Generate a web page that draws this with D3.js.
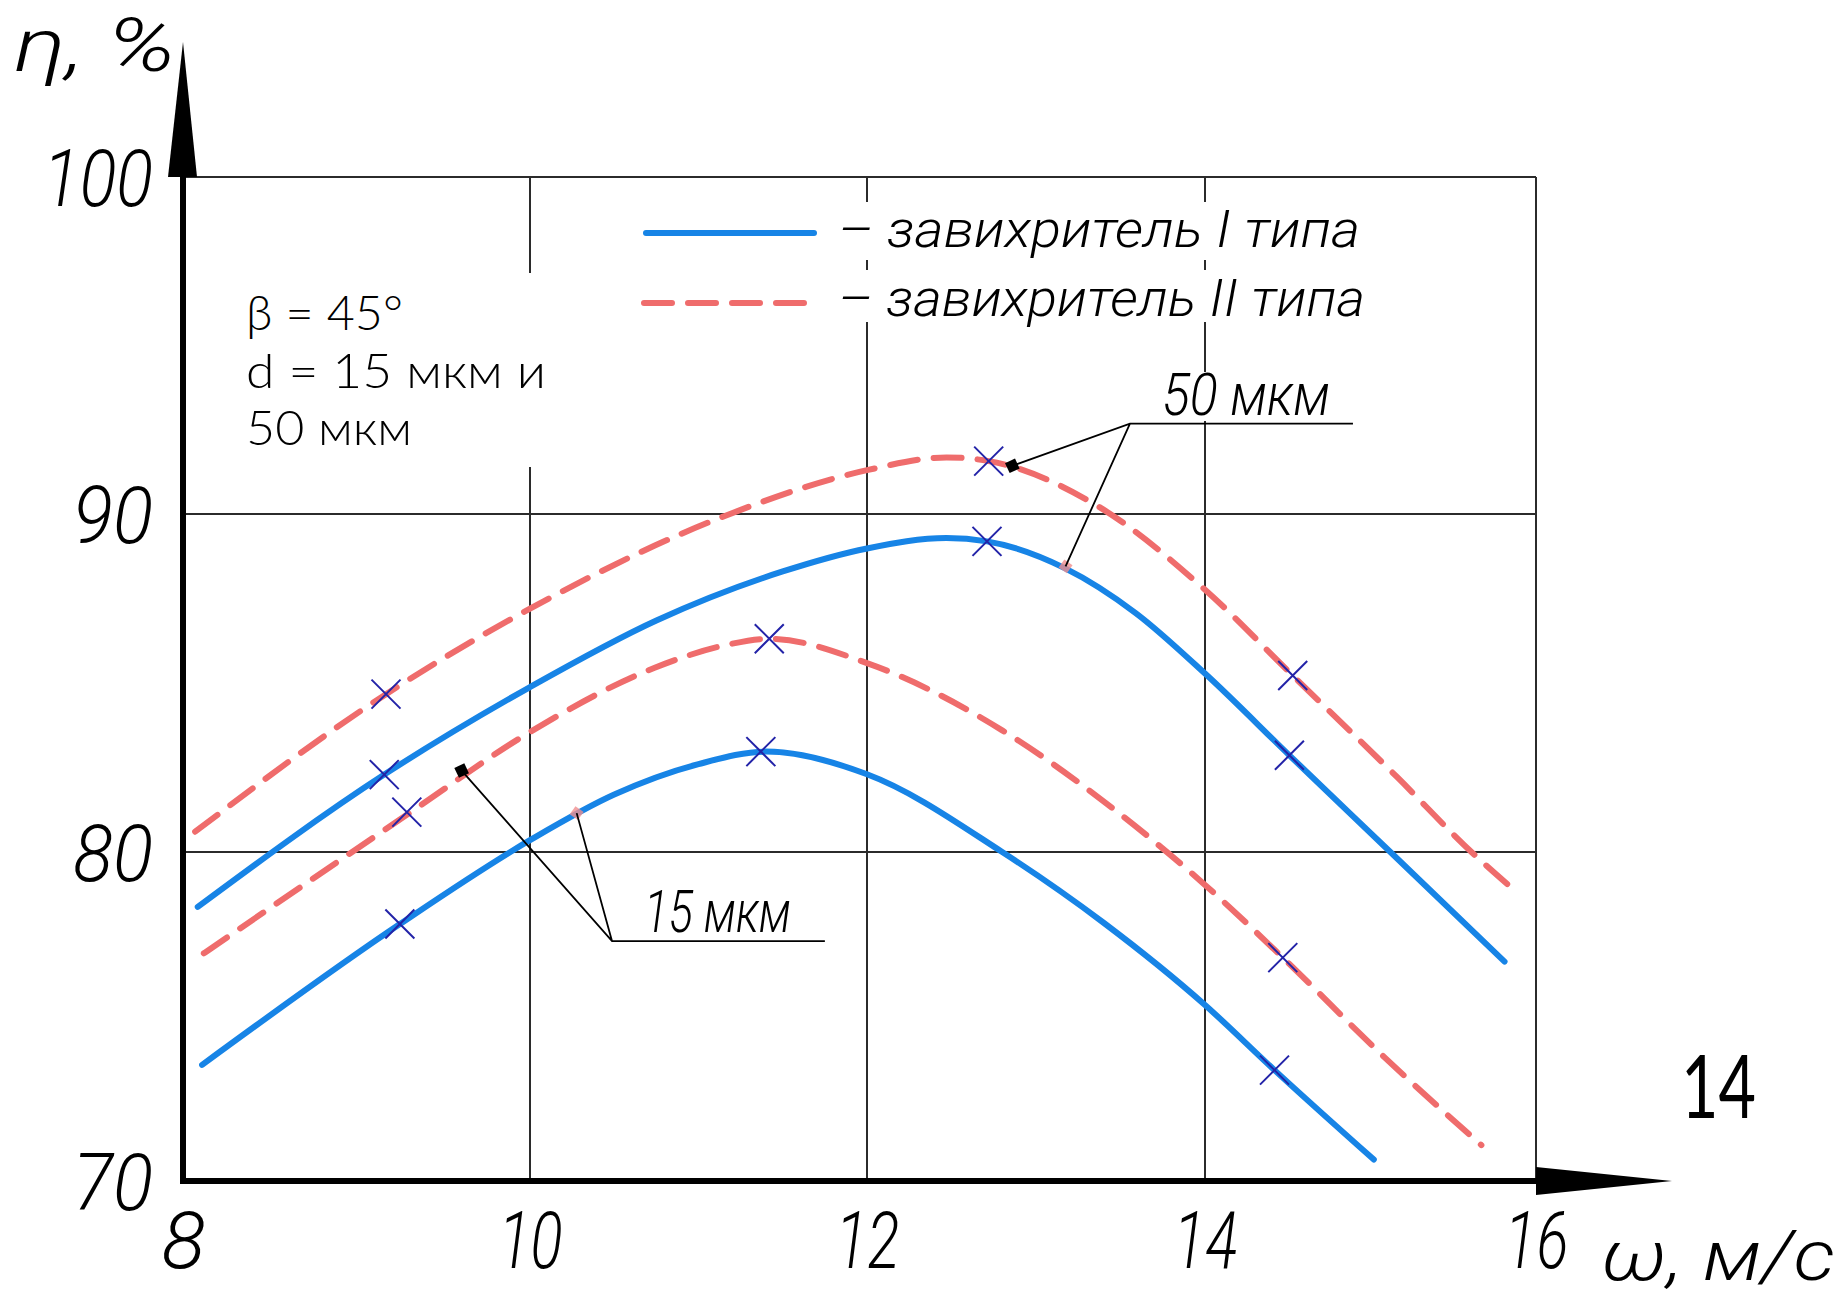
<!DOCTYPE html>
<html>
<head>
<meta charset="utf-8">
<script src="https://cdn.jsdelivr.net/npm/d3@7"></script>
<style>
  body { margin: 0; background: #fff; }
  svg { display: block; background: #fff; }
  .gost { font-family: Roboto, 'DejaVu Sans', sans-serif; font-style: italic; font-weight: 300; fill: #000; }
  .plain { font-family: Lato, 'Noto Sans', sans-serif; font-weight: 300; fill: #000; }
  .fig { font-family: Lato, 'Noto Sans', sans-serif; font-weight: 400; fill: #000; }
</style>
</head>
<body>
<svg id="chart" width="1846" height="1298"></svg>
<script>
// axis ticks
const xTicks = [8, 10, 12, 14, 16]
const yTicks = [70, 80, 90, 100]

// η(ω), d = 50 мкм
const d50typeI = [[8.085, 78.33], [9.16, 82.29], [10.0, 84.88], [10.75, 86.85], [11.5, 88.3], [12.0, 88.98],
    [12.47, 89.29], [12.71, 89.19], [13.17, 88.4], [13.59, 87.07], [14.0, 85.28], [14.51, 82.86], [15.12, 80.0], [15.81, 76.67]]
const d50typeII = [[8.07, 80.6], [9.17, 84.67], [10.0, 87.2], [11.16, 89.95], [12.0, 91.3], [12.47, 91.68],
    [12.72, 91.57], [13.36, 90.25], [14.0, 87.76], [14.53, 85.22], [15.16, 82.22], [15.61, 80.0], [15.88, 78.79]]

// η(ω), d = 15 мкм
const d15typeI = [[8.11, 73.53], [9.25, 77.81], [10.0, 80.35], [10.5, 81.7], [11.0, 82.6], [11.4, 82.97],
    [12.0, 82.3], [12.8, 80.0], [13.4, 77.85], [14.0, 75.35], [14.42, 73.37], [15.02, 70.65]]
const d15typeII = [[8.12, 76.92], [9.29, 81.1], [10.0, 83.55], [10.74, 85.45], [11.16, 86.12], [11.42, 86.31],
    [12.0, 85.59], [12.8, 83.6], [13.4, 81.5], [14.0, 79.0], [14.47, 76.79], [15.08, 73.78], [15.67, 71.09]]

// experimental points (x)
const marks = [[9.17, 84.67], [12.72, 91.57], [14.53, 85.22],
    [9.16, 82.29], [12.71, 89.19], [14.51, 82.86],
    [9.29, 81.18], [11.42, 86.31], [14.47, 76.79],
    [9.25, 77.81], [11.37, 82.97], [14.42, 73.37]]

const legendLabels = ['– завихритель I типа', '– завихритель II типа']
const noteLines = ['β = 45°', 'd = 15 мкм и', '50 мкм']

function main() {
    const svg = d3.select('#chart')
    const blue = '#1784e6', red = '#ef6c6c', navy = '#2323a8'

    const x = d3.scaleLinear().domain(xTicks).range([183, 530, 867, 1205, 1536])
    const y = d3.scaleLinear().domain(yTicks).range([1181, 852, 514, 177])

    // grid + frame
    const grid = svg.append('g').attr('stroke', '#2b2b2b').attr('stroke-width', 2)
    grid.selectAll('line.v')
        .data(xTicks.slice(1))
        .enter()
        .append('line')
        .attr('x1', d => x(d)).attr('x2', d => x(d))
        .attr('y1', y(100)).attr('y2', y(70))
    grid.selectAll('line.h')
        .data(yTicks.slice(1))
        .enter()
        .append('line')
        .attr('x1', x(8)).attr('x2', x(16))
        .attr('y1', d => y(d)).attr('y2', d => y(d))

    // white boxes behind the texts (they cut the grid lines)
    svg.append('rect').attr('x', 235).attr('y', 273).attr('width', 325).attr('height', 194).attr('fill', '#fff')
    svg.append('rect').attr('x', 830).attr('y', 202).attr('width', 540).attr('height', 58).attr('fill', '#fff')
    svg.append('rect').attr('x', 830).attr('y', 270).attr('width', 540).attr('height', 52).attr('fill', '#fff')
    svg.append('rect').attr('x', 1150).attr('y', 372).attr('width', 180).attr('height', 49).attr('fill', '#fff')

    // note
    svg.append('g').selectAll('text')
        .data(noteLines)
        .enter()
        .append('text')
        .attr('class', 'plain')
        .attr('font-size', 47)
        .attr('x', 246)
        .attr('y', (d, i) => 330 + i * 57.5)
        .attr('textLength', (d, i) => [157, 300, 166][i])
        .attr('lengthAdjust', 'spacingAndGlyphs')
        .text(d => d)

    // legend
    const legend = svg.append('g')
    legend.append('line')
        .attr('x1', 646).attr('x2', 814).attr('y1', 233).attr('y2', 233)
        .attr('stroke', blue).attr('stroke-width', 6).attr('stroke-linecap', 'round')
    legend.append('line')
        .attr('x1', 644).attr('x2', 807).attr('y1', 303).attr('y2', 303)
        .attr('stroke', red).attr('stroke-width', 6).attr('stroke-linecap', 'round')
        .attr('stroke-dasharray', '28 16')
    legend.selectAll('text')
        .data(legendLabels)
        .enter()
        .append('text')
        .attr('class', 'gost')
        .attr('font-size', 52)
        .attr('x', 838)
        .attr('y', (d, i) => 247 + i * 69)
        .attr('textLength', (d, i) => i ? 527 : 522)
        .attr('lengthAdjust', 'spacingAndGlyphs')
        .text(d => d)

    // curves
    const line = d3.line()
        .x(d => x(d[0]))
        .y(d => y(d[1]))
        .curve(d3.curveMonotoneX)

    const curves = [
        {data: d50typeII, color: red, dash: '28 16'},
        {data: d50typeI, color: blue, dash: null},
        {data: d15typeII, color: red, dash: '28 16'},
        {data: d15typeI, color: blue, dash: null},
    ]
    svg.append('g').selectAll('path')
        .data(curves)
        .enter()
        .append('path')
        .attr('d', d => line(d.data))
        .attr('fill', 'none')
        .attr('stroke', d => d.color)
        .attr('stroke-width', 6)
        .attr('stroke-linecap', 'round')
        .attr('stroke-dasharray', d => d.dash)

    // callouts
    const callouts = [
        {label: '50 мкм', knee: [13.556, 92.68], end: 14.894, box: [12.86, 91.43], tick: [13.175, 88.45], len: 168},
        {label: '15 мкм', knee: [10.487, 77.29], end: 11.75, box: [9.606, 82.41], tick: [10.277, 81.15], len: 147},
    ]
    const co = svg.append('g')
    callouts.forEach(c => {
        const kx = x(c.knee[0]), ky = y(c.knee[1])
        co.append('rect')
            .attr('x', x(c.tick[0]) - 5).attr('y', y(c.tick[1]) - 5)
            .attr('width', 10).attr('height', 10)
            .attr('fill', '#f08f8f').attr('opacity', 0.8)
            .attr('transform', 'rotate(35,' + x(c.tick[0]) + ',' + y(c.tick[1]) + ')')
        co.append('path')
            .attr('d', 'M' + x(c.end) + ',' + ky + 'L' + kx + ',' + ky + 'L' + x(c.box[0]) + ',' + y(c.box[1]) +
                'M' + kx + ',' + ky + 'L' + x(c.tick[0]) + ',' + y(c.tick[1]))
            .attr('fill', 'none').attr('stroke', '#000').attr('stroke-width', 1.8)
        co.append('rect')
            .attr('x', x(c.box[0]) - 5.5).attr('y', y(c.box[1]) - 5.5)
            .attr('width', 11).attr('height', 11)
            .attr('fill', '#000')
            .attr('transform', 'rotate(-25,' + x(c.box[0]) + ',' + y(c.box[1]) + ')')
        co.append('text')
            .attr('class', 'gost')
            .attr('font-size', 60)
            .attr('x', kx + 32)
            .attr('y', ky - 9)
            .attr('textLength', c.len)
            .attr('lengthAdjust', 'spacingAndGlyphs')
            .text(c.label)
    })

    // experimental points
    const r = 14.5
    svg.append('g').selectAll('path')
        .data(marks)
        .enter()
        .append('path')
        .attr('d', d => {
            const cx = x(d[0]), cy = y(d[1])
            return 'M' + (cx - r) + ',' + (cy - r) + 'L' + (cx + r) + ',' + (cy + r) +
                'M' + (cx - r) + ',' + (cy + r) + 'L' + (cx + r) + ',' + (cy - r)
        })
        .attr('stroke', navy)
        .attr('stroke-width', 2)
        .attr('fill', 'none')

    // axes
    const xAxis = svg.append('g')
        .attr('transform', 'translate(0,' + y(70) + ')')
        .call(d3.axisBottom(x).tickValues(xTicks).tickSize(0).tickPadding(30))
    xAxis.select('.domain').remove()
    xAxis.selectAll('text').attr('class', 'gost').attr('font-size', 80)
        .attr('textLength', d => d < 10 ? 44 : 64).attr('lengthAdjust', 'spacingAndGlyphs')

    const yAxis = svg.append('g')
        .attr('transform', 'translate(' + x(8) + ',0)')
        .call(d3.axisLeft(y).tickValues(yTicks).tickSize(0).tickPadding(30))
    yAxis.select('.domain').remove()
    yAxis.selectAll('text').attr('class', 'gost').attr('font-size', 80).attr('dy', '0.355em')
        .attr('textLength', d => d >= 100 ? 110 : 80).attr('lengthAdjust', 'spacingAndGlyphs')

    svg.append('path')
        .attr('d', 'M' + (x(8) - 3) + ',' + y(70) + 'H' + x(16) + 'M' + x(8) + ',' + (y(70) + 3) + 'V' + y(100))
        .attr('stroke', '#000').attr('stroke-width', 6).attr('fill', 'none')
    // arrow heads
    svg.append('path')
        .attr('d', 'M' + x(16) + ',' + (y(70) - 14) + 'L' + (x(16) + 136) + ',' + y(70) + 'L' + x(16) + ',' + (y(70) + 14) + 'Z')
        .attr('fill', '#000')
    svg.append('path')
        .attr('d', 'M' + (x(8) - 15) + ',' + y(100) + 'L' + x(8) + ',' + (y(100) - 135) + 'L' + (x(8) + 14) + ',' + y(100) + 'Z')
        .attr('fill', '#000')

    // axis titles
    svg.append('text').attr('class', 'gost').attr('font-size', 74)
        .attr('x', 14).attr('y', 71)
        .attr('textLength', 162).attr('lengthAdjust', 'spacingAndGlyphs')
        .text('η, %')
    svg.append('text').attr('class', 'gost').attr('font-size', 70)
        .attr('x', 1601).attr('y', 1280)
        .attr('textLength', 234).attr('lengthAdjust', 'spacingAndGlyphs')
        .text('ω, м/с')

    // figure number
    svg.append('text').attr('class', 'fig').attr('font-size', 88)
        .attr('x', 1681).attr('y', 1118)
        .attr('textLength', 75).attr('lengthAdjust', 'spacingAndGlyphs')
        .text('14')
}

main()
</script>
</body>
</html>
